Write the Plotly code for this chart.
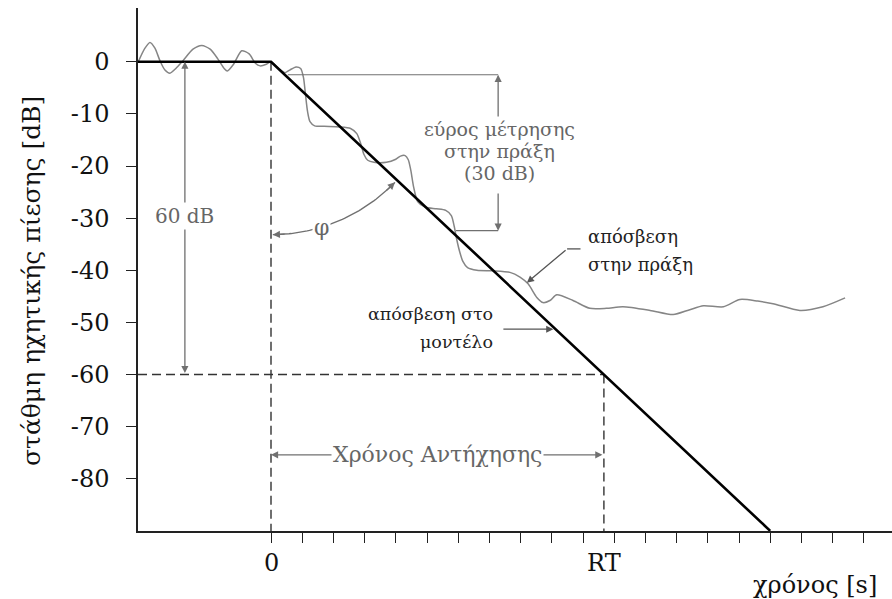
import numpy as np
import plotly.graph_objects as go

# ---------------- data ----------------
RT = 10.67                       # reverberation time (x units)
DECAY_RANGE = 60                 # dB
T_END = 16.0                     # where model line meets bottom axis
Y_BOTTOM = -90
model_t = [-4.263, 0.0, T_END]
model_db = [0.0, 0.0, -DECAY_RANGE / RT * T_END]

practice_t = [-4.26, -4.05, -3.88, -3.72, -3.56, -3.4, -3.24, -3.05, -2.82, -2.5, -2.22,
              -1.95, -1.7, -1.5, -1.4, -1.2, -0.94, -0.7, -0.5, -0.35, -0.15, 0.0,
              0.25, 0.45, 0.6, 0.8, 0.95, 1.04, 1.1, 1.17, 1.25, 1.4, 1.7, 2.2, 2.55,
              2.75, 2.88, 2.98, 3.1, 3.3, 3.7, 4.0, 4.15, 4.3, 4.4, 4.48, 4.57, 4.7,
              4.95, 5.3, 5.6, 5.78, 5.87, 5.95, 6.05, 6.15, 6.3, 6.6, 7.12, 7.66, 7.98,
              8.24, 8.52, 8.72, 8.94, 9.16, 9.68, 10.22, 10.75, 11.28, 12.15, 12.89,
              13.4, 13.86, 14.5, 15.03, 15.6, 16.09, 16.95, 17.69, 18.4]
practice_db = [-0.1, 2.5, 3.7, 2.6, 0.2, -1.6, -2.2, -1.3, 0.2, 2.4, 3.1,
               2.4, 0.5, -1.3, -1.8, -0.5, 2.1, 1.5, -0.3, -0.8, -0.5, 0.0,
               -1.3, -2.1, -1.6, -1.0, -1.3, -3.0, -6.0, -9.5, -11.5, -12.3, -12.4, -12.5, -12.8,
               -13.8, -15.8, -17.8, -18.9, -19.3, -19.3, -18.7, -18.1, -18.0, -18.8, -20.8, -24.0, -26.8,
               -27.9, -28.2, -28.5, -29.5, -31.5, -34.0, -36.5, -38.3, -39.5, -40.0, -40.1, -40.4, -41.3,
               -42.6, -45.2, -46.2, -45.8, -44.7, -45.8, -47.3, -47.3, -47.0, -47.7, -48.5,
               -47.6, -46.8, -47.0, -45.6, -45.9, -46.4, -47.7, -47.0, -45.3]

y_tick_vals = [0, -10, -20, -30, -40, -50, -60, -70, -80]
y_tick_text = ["0", "-10", "-20", "-30", "-40", "-50", "-60", "-70", "-80"]
x_minor_ticks = list(range(0, 20))
x_labels = ["0", "RT"]
x_label_pos = [0.0, RT]

# ---------------- geometry ----------------
W, H = 892, 599
ML, MR, MT, MB = 138, 0, 8, 68
X_RANGE = [-4.263, 19.904]
Y_RANGE = [Y_BOTTOM, 10.3]
PLOT_H = H - MT - MB
PX_X = (W - ML - MR) / (X_RANGE[1] - X_RANGE[0])
PX_Y = PLOT_H / (Y_RANGE[1] - Y_RANGE[0])

def paper_y(py):
    return (H - MB - py) / PLOT_H

FONT = "DejaVu Serif"
GRAY = "#707070"
TXT_GRAY = "#666666"
DARK = "#222222"

fig = go.Figure()

# practical decay curve
fig.add_trace(go.Scatter(x=practice_t, y=practice_db, mode="lines",
                         line=dict(color="#858585", width=1.5, shape="spline", smoothing=0.7),
                         hoverinfo="skip"))

# dashed guide lines
dash_style = dict(color="#333333", width=1.4, dash="9px,5px")
fig.add_trace(go.Scatter(x=[0, 0], y=[0, Y_BOTTOM], mode="lines", line=dash_style))
fig.add_trace(go.Scatter(x=[X_RANGE[0], RT], y=[-DECAY_RANGE, -DECAY_RANGE], mode="lines", line=dash_style))
fig.add_trace(go.Scatter(x=[RT, RT], y=[-DECAY_RANGE, Y_BOTTOM], mode="lines", line=dash_style))

# model decay line
fig.add_trace(go.Scatter(x=model_t, y=model_db, mode="lines",
                         line=dict(color="black", width=2.6), hoverinfo="skip"))

# angle arc (phi) in pixel space -> data
theta_line = np.arctan2(T_END * PX_X, (-model_db[2]) * PX_Y)
R_ARC = 173
th = np.linspace(np.radians(0.6), theta_line - np.radians(1.0), 60)
arc_x = R_ARC * np.sin(th) / PX_X
arc_y = -R_ARC * np.cos(th) / PX_Y
fig.add_trace(go.Scatter(x=arc_x, y=arc_y, mode="lines",
                         line=dict(color=GRAY, width=1.3), hoverinfo="skip"))

annotations = []

def arrow(x, y, ax, ay, color=GRAY, both=False, width=1.3):
    annotations.append(dict(x=x, y=y, ax=ax, ay=ay, xref="x", yref="y", axref="x", ayref="y",
                            text="", showarrow=True, arrowhead=2, arrowsize=1.1,
                            arrowwidth=width, arrowcolor=color,
                            arrowside="end+start" if both else "end"))

def text(x, y, s, size=19, color=TXT_GRAY, xanchor="center", align="center", bg=None, **kw):
    d = dict(x=x, y=y, xref="x", yref="y", text=s, showarrow=False,
             font=dict(family=FONT, size=size, color=color),
             xanchor=xanchor, yanchor="middle", align=align)
    if bg:
        d["bgcolor"] = bg
    d.update(kw)
    annotations.append(d)

def dy(py):
    """pixel row -> data y"""
    return Y_RANGE[1] - (py - MT) / PX_Y

# arc arrowheads
t0a, t0b = np.radians(0.6), np.radians(5)
arrow(R_ARC*np.sin(t0a)/PX_X, -R_ARC*np.cos(t0a)/PX_Y, R_ARC*np.sin(t0b)/PX_X, -R_ARC*np.cos(t0b)/PX_Y)
t1a, t1b = theta_line - np.radians(1.0), theta_line - np.radians(5.5)
arrow(R_ARC*np.sin(t1a)/PX_X, -R_ARC*np.cos(t1a)/PX_Y, R_ARC*np.sin(t1b)/PX_X, -R_ARC*np.cos(t1b)/PX_Y)
tm = np.radians(17)
text(R_ARC*np.sin(tm)/PX_X, -R_ARC*np.cos(tm)/PX_Y, "φ", size=22, bg="white")

# 60 dB double arrow
x60 = -2.76
arrow(x60, 0, x60, -DECAY_RANGE, both=True)
text(x60, -29.6, "60 dB", size=20, bg="white")

# reverberation time double arrow
y_rt = -75.4
arrow(0, y_rt, RT, y_rt, both=True)
text(RT / 2, y_rt, "Χρόνος Αντήχησης", size=22, bg="white")

# measurement range bracket
shapes = []
xb = 7.28
y_top, y_bot = -2.5, -32.4
shapes.append(dict(type="line", xref="x", yref="y", x0=0.54, x1=xb, y0=y_top, y1=y_top,
                   line=dict(color=GRAY, width=1.2)))
shapes.append(dict(type="line", xref="x", yref="y", x0=5.93, x1=xb, y0=y_bot, y1=y_bot,
                   line=dict(color=GRAY, width=1.2)))
arrow(xb, y_top, xb, -10.8)
arrow(xb, y_bot, xb, -25.0)
for s, py in zip(["εύρος μέτρησης", "στην πράξη", "(30 dB)"], [129, 151, 173]):
    text(xb + 0.05, dy(py), s, size=19)

# practical decay label
shapes.append(dict(type="line", xref="x", yref="y", x0=9.49, x1=9.92, y0=-35.9, y1=-35.9,
                   line=dict(color="#555555", width=1.3)))
arrow(8.2, -42.4, 9.49, -35.9, color="#555555")
for s, py in zip(["απόσβεση", "στην πράξη"], [236, 264]):
    text(10.1, dy(py), s, size=18, color=DARK, xanchor="left", align="left")

# model decay label
arrow(9.05, -51.3, 7.40, -51.3, color="#555555")
for s, py in zip(["απόσβεση στο", "μοντέλο"], [314, 342]):
    text(7.18, dy(py), s, size=17.5, color=DARK, xanchor="right", align="right")

# x labels (below the plot area -> paper coordinates)
def xlabel(x, py, s, size=24):
    annotations.append(dict(x=x, y=paper_y(py), xref="x", yref="paper", text=s,
                            showarrow=False, font=dict(family=FONT, size=size, color="#111111"),
                            xanchor="center", yanchor="middle"))

for lab, pos in zip(x_labels, x_label_pos):
    xlabel(pos, 563, lab)
xlabel(17.44, 585, "χρόνος [s]")

# y title
annotations.append(dict(x=(31 - ML) / (W - ML - MR), y=paper_y(281),
                        xref="paper", yref="paper", text="στάθμη ηχητικής πίεσης [dB]",
                        showarrow=False, textangle=-90,
                        font=dict(family=FONT, size=25, color="#111111"),
                        xanchor="center", yanchor="middle"))

fig.update_layout(
    width=W, height=H, margin=dict(l=ML, r=MR, t=MT, b=MB),
    paper_bgcolor="white", plot_bgcolor="white", showlegend=False,
    annotations=annotations, shapes=shapes,
    xaxis=dict(range=X_RANGE, showgrid=False, zeroline=False, showline=True,
               linecolor="#222222", linewidth=1.5, ticks="outside", ticklen=10,
               tickwidth=1.3, tickcolor="#222222", tickmode="array",
               tickvals=x_minor_ticks, showticklabels=False, fixedrange=True),
    yaxis=dict(range=Y_RANGE, showgrid=False, zeroline=False, showline=True,
               linecolor="#222222", linewidth=1.5, ticks="outside", ticklen=10,
               tickwidth=1.3, tickcolor="#222222", tickmode="array",
               tickvals=y_tick_vals, ticktext=y_tick_text, ticklabelstandoff=12,
               tickfont=dict(family=FONT, size=24, color="#111111"), fixedrange=True),
)

fig.write_html("out.html", include_plotlyjs=True, config={"displayModeBar": False})
